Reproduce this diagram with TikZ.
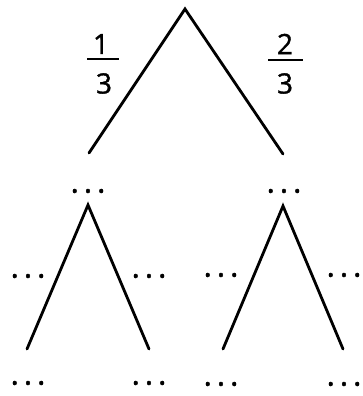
\documentclass[tikz,border=0pt]{standalone}
\usepackage{fontspec}
\setmainfont{Open Sans}
\newfontfamily\digitfont{Open Sans}[FakeBold=1.3]
\usetikzlibrary{positioning}

\newcommand{\moredots}{.\kern5pt.\kern5pt.}

\begin{document}
\begin{tikzpicture}[
      x=1pt, y=-1pt,
      every node/.style={inner sep=0pt, outer sep=0pt},
      branch/.style={line width=2.8pt, line cap=round},
      digit/.style={font=\digitfont\fontsize{28}{30}\selectfont},
      fracbar/.style={line width=2pt},
      more/.style={font=\digitfont\fontsize{31}{33}\selectfont}
]
\useasboundingbox (0,0) rectangle (362,396);

% first split
\coordinate (root) at (185,9);
\coordinate (a) at (89,153);
\coordinate (b) at (283,154);
\draw[branch] (a) -- (root) -- (b);

% probabilities
\node[digit] (num1) at (101,44) {1};
\node[digit] (den1) at (104,83.5) {3};
\draw[fracbar] (87,59) -- (119,59);
\node[digit] (num2) at (285,44) {2};
\node[digit] (den2) at (285,83.5) {3};
\draw[fracbar] (268,60) -- (303,60);

% continuation marks
\node[more] (adots) at (88,191) {\moredots};
\node[more] (bdots) at (284,191) {\moredots};

% second level
\coordinate (ap) at (88,205);
\coordinate (a1) at (27,349);
\coordinate (a2) at (149,349);
\coordinate (bp) at (283,206);
\coordinate (b1) at (223,349);
\coordinate (b2) at (343,349);
\draw[branch] (a1) -- (ap) -- (a2);
\draw[branch] (b1) -- (bp) -- (b2);

\node[more] (a1side) at (28,276) {\moredots};
\node[more] (a2side) at (149,276) {\moredots};
\node[more] (b1side) at (221,275) {\moredots};
\node[more] (b2side) at (344,275) {\moredots};

\node[more] (a1low) at (28,383) {\moredots};
\node[more] (a2low) at (149,383) {\moredots};
\node[more] (b1low) at (221,384) {\moredots};
\node[more] (b2low) at (344,384) {\moredots};
\end{tikzpicture}
\end{document}
